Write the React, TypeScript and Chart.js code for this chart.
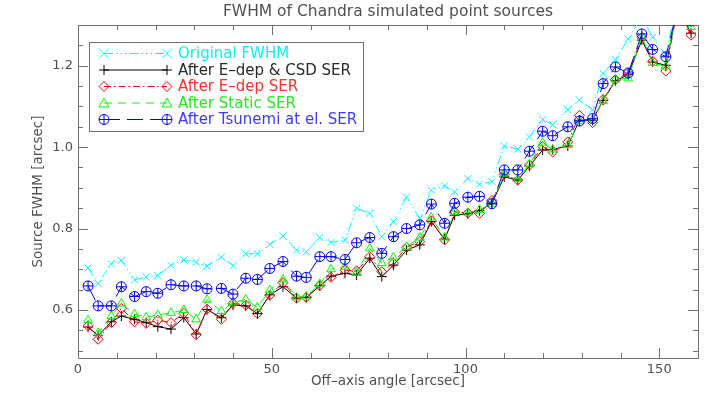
import React, { useEffect, useRef } from 'react';
import { Chart, registerables } from 'chart.js';

Chart.register(...registerables);

// ---- data ----
const offAxisAngle = [
  2.6, 5.2, 8.6, 11.2, 14.6, 17.6, 20.6, 24.0, 27.3, 30.5,
  33.3, 37.0, 40.0, 43.3, 46.3, 49.5, 52.9, 56.4, 58.9, 62.4,
  65.3, 68.9, 71.9, 75.3, 78.4, 81.4, 84.8, 88.2, 91.2, 94.6,
  97.2, 100.6, 103.6, 106.8, 110.0, 113.5, 116.5, 119.9, 122.5, 126.4,
  129.4, 132.8, 135.5, 138.7, 142.0, 145.5, 148.3, 151.7, 154.7, 158.2,
];
const originalFwhm = [
  0.703, 0.665, 0.713, 0.722, 0.674, 0.681, 0.685, 0.710, 0.723, 0.717,
  0.708, 0.730, 0.709, 0.738, 0.738, 0.761, 0.782, 0.747, 0.743, 0.778,
  0.766, 0.772, 0.850, 0.837, 0.780, 0.817, 0.877, 0.825, 0.894, 0.905,
  0.890, 0.923, 0.909, 0.915, 1.003, 0.995, 1.025, 1.068, 1.055, 1.092,
  1.116, 1.092, 1.181, 1.215, 1.266, 1.320, 1.270, 1.227, 1.360, 1.340,
];
const edepCsdSer = [
  0.558, 0.537, 0.571, 0.585, 0.577, 0.569, 0.559, 0.553, 0.581, 0.541,
  0.601, 0.581, 0.612, 0.610, 0.591, 0.637, 0.657, 0.629, 0.631, 0.659,
  0.683, 0.690, 0.686, 0.727, 0.682, 0.710, 0.747, 0.760, 0.817, 0.774,
  0.833, 0.836, 0.844, 0.862, 0.927, 0.919, 0.953, 0.993, 0.994, 1.003,
  1.066, 1.066, 1.115, 1.163, 1.178, 1.263, 1.209, 1.201, 1.340, 1.280,
];
const edepSer = [
  0.561, 0.528, 0.569, 0.604, 0.571, 0.567, 0.575, 0.569, 0.592, 0.539,
  0.602, 0.577, 0.616, 0.612, 0.591, 0.636, 0.667, 0.629, 0.631, 0.660,
  0.680, 0.698, 0.696, 0.731, 0.694, 0.715, 0.754, 0.768, 0.819, 0.772,
  0.841, 0.838, 0.837, 0.869, 0.933, 0.919, 0.956, 1.002, 0.988, 1.013,
  1.078, 1.060, 1.117, 1.166, 1.182, 1.270, 1.211, 1.187, 1.340, 1.275,
];
const staticSer = [
  0.575, 0.544, 0.585, 0.616, 0.590, 0.582, 0.588, 0.593, 0.600, 0.577,
  0.625, 0.597, 0.618, 0.626, 0.606, 0.649, 0.675, 0.631, 0.633, 0.664,
  0.700, 0.706, 0.692, 0.751, 0.715, 0.729, 0.755, 0.778, 0.827, 0.778,
  0.841, 0.839, 0.846, 0.861, 0.935, 0.921, 0.958, 1.011, 0.994, 1.005,
  1.064, 1.068, 1.113, 1.166, 1.169, 1.271, 1.207, 1.198, 1.350, 1.295,
];
const tsunemiSer = [
  0.659, 0.610, 0.610, 0.657, 0.633, 0.645, 0.641, 0.662, 0.659, 0.659,
  0.652, 0.653, 0.639, 0.678, 0.675, 0.702, 0.719, 0.683, 0.680, 0.731,
  0.731, 0.724, 0.765, 0.778, 0.739, 0.780, 0.800, 0.809, 0.860, 0.813,
  0.862, 0.877, 0.879, 0.861, 0.944, 0.944, 0.990, 1.039, 1.028, 1.050,
  1.064, 1.070, 1.156, 1.197, 1.182, 1.278, 1.240, 1.222, 1.340, 1.310,
];

const seriesLabels = [
  'Original FWHM',
  'After E\u2013dep & CSD SER',
  'After E\u2013dep SER',
  'After Static SER',
  'After Tsunemi at el. SER',
];
const seriesColors = ['#00ffff', '#000000', '#ff0000', '#00ff00', '#0000ff'];
const legendTextColors = ['#10f0f0', '#2a2a2a', '#ff3030', '#28e828', '#3c3cff'];

const xTickValues = [0, 10, 20, 30, 40, 50, 60, 70, 80, 90, 100, 110, 120, 130, 140, 150, 160];
const xMajorTicks = [0, 50, 100, 150];
const yTickValues = [0.5, 0.55, 0.6, 0.65, 0.7, 0.75, 0.8, 0.85, 0.9, 0.95, 1.0, 1.05, 1.1, 1.15, 1.2, 1.25, 1.3];
const yMajorTicks = [0.6, 0.8, 1.0, 1.2];

const chartTitle = 'FWHM of Chandra simulated point sources';
const xTitle = 'Off\u2013axis angle [arcsec]';
const yTitle = 'Source FWHM [arcsec]';

const TEXT = '#505050';
const AXIS = '#707070';
const FONT = "'DejaVu Sans', sans-serif";

type Marker = 'x' | 'plus' | 'diamond' | 'triangle' | 'circleplus';
const markers: Marker[] = ['x', 'plus', 'diamond', 'triangle', 'circleplus'];
const dashes: number[][] = [
  [9, 3, 1.5, 3, 1.5, 3, 1.5, 3],
  [],
  [7, 3, 1.5, 3],
  [8, 6],
  [16, 7],
];

function drawMarker(ctx: CanvasRenderingContext2D, kind: Marker, x: number, y: number, color: string) {
  ctx.save();
  ctx.setLineDash([]);
  ctx.strokeStyle = color;
  ctx.lineWidth = 1;
  ctx.beginPath();
  const r = 5;
  if (kind === 'x') {
    ctx.moveTo(x - r, y - r); ctx.lineTo(x + r, y + r);
    ctx.moveTo(x - r, y + r); ctx.lineTo(x + r, y - r);
  } else if (kind === 'plus') {
    ctx.moveTo(x - r, y); ctx.lineTo(x + r, y);
    ctx.moveTo(x, y - r); ctx.lineTo(x, y + r);
  } else if (kind === 'diamond') {
    ctx.moveTo(x, y - r); ctx.lineTo(x + r, y); ctx.lineTo(x, y + r); ctx.lineTo(x - r, y); ctx.closePath();
  } else if (kind === 'triangle') {
    ctx.moveTo(x, y - r); ctx.lineTo(x + r, y + r * 0.8); ctx.lineTo(x - r, y + r * 0.8); ctx.closePath();
  } else {
    ctx.arc(x, y, r, 0, Math.PI * 2);
    ctx.moveTo(x - r, y); ctx.lineTo(x + r, y);
    ctx.moveTo(x, y - r); ctx.lineTo(x, y + r);
  }
  ctx.stroke();
  ctx.restore();
}

const framePlugin = {
  id: 'idlFrame',
  beforeDraw(chart: any) {
    const ctx = chart.ctx as CanvasRenderingContext2D;
    ctx.save();
    ctx.fillStyle = '#ffffff';
    ctx.fillRect(0, 0, chart.width, chart.height);
    ctx.restore();
  },
  beforeDatasetsDraw(chart: any) {
    const ctx = chart.ctx as CanvasRenderingContext2D;
    const a = chart.chartArea;
    const sx = chart.scales.x;
    const sy = chart.scales.y;
    ctx.save();
    ctx.strokeStyle = AXIS;
    ctx.lineWidth = 1;
    ctx.beginPath();
    ctx.rect(Math.round(a.left) + 0.5, Math.round(a.top) + 0.5, Math.round(a.right - a.left), Math.round(a.bottom - a.top));
    for (const v of xTickValues) {
      const px = Math.round(sx.getPixelForValue(v)) + 0.5;
      const len = xMajorTicks.includes(v) ? 10 : 5;
      ctx.moveTo(px, a.bottom); ctx.lineTo(px, a.bottom - len);
      ctx.moveTo(px, a.top); ctx.lineTo(px, a.top + len);
    }
    for (const v of yTickValues) {
      const py = Math.round(sy.getPixelForValue(v)) + 0.5;
      if (py < a.top - 0.5 || py > a.bottom + 0.5) continue;
      const len = yMajorTicks.some((m) => Math.abs(m - v) < 1e-6) ? 10 : 5;
      ctx.moveTo(a.left, py); ctx.lineTo(a.left + len, py);
      ctx.moveTo(a.right, py); ctx.lineTo(a.right - len, py);
    }
    ctx.stroke();
    // title
    ctx.fillStyle = TEXT;
    ctx.font = `15.5px ${FONT}`;
    ctx.textAlign = 'center';
    ctx.textBaseline = 'middle';
    ctx.fillText(chartTitle, (a.left + a.right) / 2, 12);
    ctx.restore();
  },
  afterDatasetsDraw(chart: any) {
    const ctx = chart.ctx as CanvasRenderingContext2D;
    ctx.save();
    // plus signs inside the Tsunemi circles, at the library's point positions
    const meta = chart.getDatasetMeta(4);
    const a = chart.chartArea;
    ctx.beginPath();
    ctx.rect(a.left, a.top, a.right - a.left, a.bottom - a.top);
    ctx.clip();
    ctx.strokeStyle = seriesColors[4];
    ctx.lineWidth = 1;
    ctx.beginPath();
    for (const el of meta.data) {
      const r = 5;
      ctx.moveTo(el.x - r, el.y); ctx.lineTo(el.x + r, el.y);
      ctx.moveTo(el.x, el.y - r); ctx.lineTo(el.x, el.y + r);
    }
    ctx.stroke();
    ctx.restore();

    ctx.save();
    // legend box
    const bx = 89.5, by = 42.5, bw = 274, bh = 89;
    ctx.strokeStyle = AXIS;
    ctx.lineWidth = 1;
    ctx.strokeRect(bx, by, bw, bh);
    const x0 = 104, x1 = 167, tx = 178;
    ctx.font = `15px ${FONT}`;
    ctx.textAlign = 'left';
    ctx.textBaseline = 'middle';
    seriesLabels.forEach((label, i) => {
      const y = 53.5 + i * 16.5;
      const col = seriesColors[i];
      ctx.strokeStyle = col;
      ctx.setLineDash(dashes[i]);
      ctx.beginPath();
      ctx.moveTo(x0, y);
      ctx.lineTo(x1, y);
      ctx.stroke();
      ctx.setLineDash([]);
      drawMarker(ctx, markers[i], x0, y, col);
      drawMarker(ctx, markers[i], x1, y, col);
      ctx.fillStyle = legendTextColors[i];
      ctx.fillText(label, tx, y + 1);
    });
    ctx.restore();
  },
};

export default function App() {
  const canvasRef = useRef<HTMLCanvasElement | null>(null);

  useEffect(() => {
    document.body.style.margin = '0';
    const canvas = canvasRef.current;
    if (!canvas) return;
    const series = [originalFwhm, edepCsdSer, edepSer, staticSer, tsunemiSer];
    const pointStyles = ['crossRot', 'cross', 'rectRot', 'triangle', 'circle'];

    const datasets = series.map((vals, i) => ({
      label: seriesLabels[i],
      data: offAxisAngle.map((x, j) => ({ x, y: vals[j] })),
      borderColor: seriesColors[i],
      backgroundColor: 'rgba(0,0,0,0)',
      borderWidth: 1,
      borderDash: dashes[i],
      pointStyle: pointStyles[i],
      pointRadius: 5,
      pointBorderColor: seriesColors[i],
      pointBackgroundColor: 'rgba(0,0,0,0)',
      pointBorderWidth: 1,
      tension: 0,
      fill: false,
      order: 5 - i,
    }));

    const chart = new Chart(canvas, {
      type: 'line',
      data: { datasets },
      options: {
        responsive: false,
        animation: false,
        devicePixelRatio: 1,
        layout: { padding: { top: 25, right: 22, left: 0, bottom: 0 } },
        plugins: {
          legend: { display: false },
          title: { display: false },
          tooltip: { enabled: false },
        },
        scales: {
          x: {
            type: 'linear',
            min: 0,
            max: 160,
            afterBuildTicks: (s: any) => { s.ticks = xTickValues.map((v) => ({ value: v })); },
            afterFit: (s: any) => { s.height = 42; },
            grid: { display: false, drawTicks: false },
            border: { display: false },
            ticks: {
              autoSkip: false,
              maxRotation: 0,
              padding: 4,
              color: TEXT,
              font: { family: FONT, size: 13 },
              callback: (v: any) => (xMajorTicks.includes(Number(v)) ? String(v) : ''),
            },
            title: {
              display: true,
              text: xTitle,
              color: TEXT,
              font: { family: FONT, size: 13.5 },
              padding: { top: 0, bottom: 10 },
            },
          },
          y: {
            type: 'linear',
            min: 0.482,
            max: 1.3,
            afterBuildTicks: (s: any) => { s.ticks = yTickValues.map((v) => ({ value: v })); },
            afterFit: (s: any) => { s.width = 78; },
            grid: { display: false, drawTicks: false },
            border: { display: false },
            ticks: {
              autoSkip: false,
              padding: 5,
              color: TEXT,
              font: { family: FONT, size: 13 },
              callback: (v: any) => {
                const n = Number(v);
                return yMajorTicks.some((m) => Math.abs(m - n) < 1e-6) ? n.toFixed(1) : '';
              },
            },
            title: {
              display: true,
              text: yTitle,
              color: TEXT,
              font: { family: FONT, size: 13.5 },
              padding: { top: 30, bottom: 0 },
            },
          },
        },
      } as any,
      plugins: [framePlugin as any],
    });
    return () => chart.destroy();
  }, []);

  return (
    <div style={{ width: 720, height: 400 }}>
      <canvas ref={canvasRef} width={720} height={400} style={{ width: 720, height: 400, display: 'block' }} />
    </div>
  );
}
